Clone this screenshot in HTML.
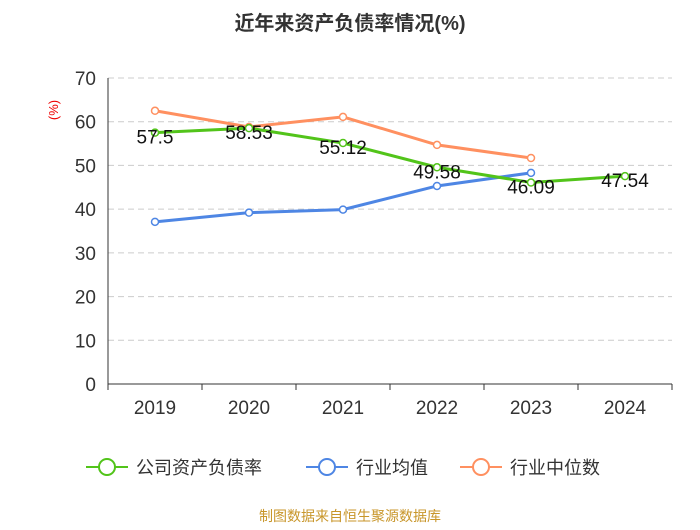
<!DOCTYPE html>
<html><head><meta charset="utf-8"><style>
body{margin:0;background:#fff;}
svg text{font-family:"Liberation Sans","Noto Sans CJK SC",sans-serif;}
</style></head><body>
<svg id="c" width="700" height="525" xmlns="http://www.w3.org/2000/svg">
<text x="350" y="30" text-anchor="middle" font-size="20" font-weight="bold" fill="#333">近年来资产负债率情况(%)</text>
<text x="58" y="110" font-size="13" fill="#e00" transform="rotate(-90 58 110)" text-anchor="middle">(%)</text>
<g id="grid"></g><g id="axes"></g><g id="series"></g>
<g>
<g><line x1="86" y1="467" x2="128" y2="467" stroke="#52c41a" stroke-width="2"/><circle cx="107" cy="467" r="8" fill="#fff" stroke="#52c41a" stroke-width="2"/><text x="136" y="474" font-size="18" fill="#333">公司资产负债率</text></g>
<g><line x1="306" y1="467" x2="348" y2="467" stroke="#4e86e4" stroke-width="2"/><circle cx="327" cy="467" r="8" fill="#fff" stroke="#4e86e4" stroke-width="2"/><text x="356" y="474" font-size="18" fill="#333">行业均值</text></g>
<g><line x1="460" y1="467" x2="502" y2="467" stroke="#ff9060" stroke-width="2"/><circle cx="481" cy="467" r="8" fill="#fff" stroke="#ff9060" stroke-width="2"/><text x="510" y="474" font-size="18" fill="#333">行业中位数</text></g>
</g>
<text x="350" y="521" text-anchor="middle" font-size="14" fill="#c8962a">制图数据来自恒生聚源数据库</text>
</svg>
<script>
const categories=["2019","2020","2021","2022","2023","2024"];
const company=[57.5,58.53,55.12,49.58,46.09,47.54];
const industryAvg=[37.1,39.2,39.9,45.3,48.3,null];
const industryMedian=[62.5,58.8,61.1,54.7,51.7,null];
const yTicks=[0,10,20,30,40,50,60,70];
const NS="http://www.w3.org/2000/svg";
const x0=108,x1=672,yb=384,yt=78,ymax=70;
const bw=(x1-x0)/categories.length;
const X=i=>x0+bw*(i+0.5);
const Y=v=>yb-(v/ymax)*(yb-yt);
function mk(t,a,p){const e=document.createElementNS(NS,t);for(const k in a)e.setAttribute(k,a[k]);p.appendChild(e);return e;}
const grid=document.getElementById('grid'),axes=document.getElementById('axes'),ser=document.getElementById('series');
yTicks.forEach(v=>{
 if(v>0){const g=mk('line',{x1:x0,x2:x1,y1:Y(v),y2:Y(v),stroke:'#ccc','stroke-dasharray':'6,4'},grid);
 
 }
 const t=mk('text',{x:96,y:Y(v)+7,'text-anchor':'end','font-size':'19',fill:'#333'},axes);t.textContent=v;
 
 
});
const ax=mk('line',{x1:x0,x2:x0,y1:yt,y2:yb,stroke:'#333'},axes);


const bx=mk('line',{x1:x0,x2:x1,y1:yb,y2:yb,stroke:'#333'},axes);


categories.forEach((c,i)=>{
 mk('line',{x1:x0+bw*i,x2:x0+bw*i,y1:yb,y2:yb+6,stroke:'#333'},axes);
 const t=mk('text',{x:X(i),y:414,'text-anchor':'middle','font-size':'19',fill:'#333'},axes);t.textContent=c;
 
 
});
mk('line',{x1:x1,x2:x1,y1:yb,y2:yb+6,stroke:'#333'},axes);
function draw(arr,color,name,labels){
 const pts=[];arr.forEach((v,i)=>{if(v!=null)pts.push([X(i),Y(v),v]);});
 const pl=mk('polyline',{points:pts.map(p=>p[0]+','+p[1]).join(' '),fill:'none',stroke:color,'stroke-width':3},ser);
 
 
 pts.forEach((p,i)=>{const c=mk('circle',{cx:p[0],cy:p[1],r:3.5,fill:'#fff',stroke:color,'stroke-width':1.5},ser);
  
  });
 if(labels)pts.forEach(p=>{const t=mk('text',{x:p[0],y:p[1]+11,'text-anchor':'middle','font-size':'19',fill:'#111'},ser);t.textContent=p[2];
  
  });
}
draw(industryMedian,'#ff9060','industry-median',false);
draw(industryAvg,'#4e86e4','industry-avg',false);
draw(company,'#52c41a','company',true);
</script>
</body></html>
